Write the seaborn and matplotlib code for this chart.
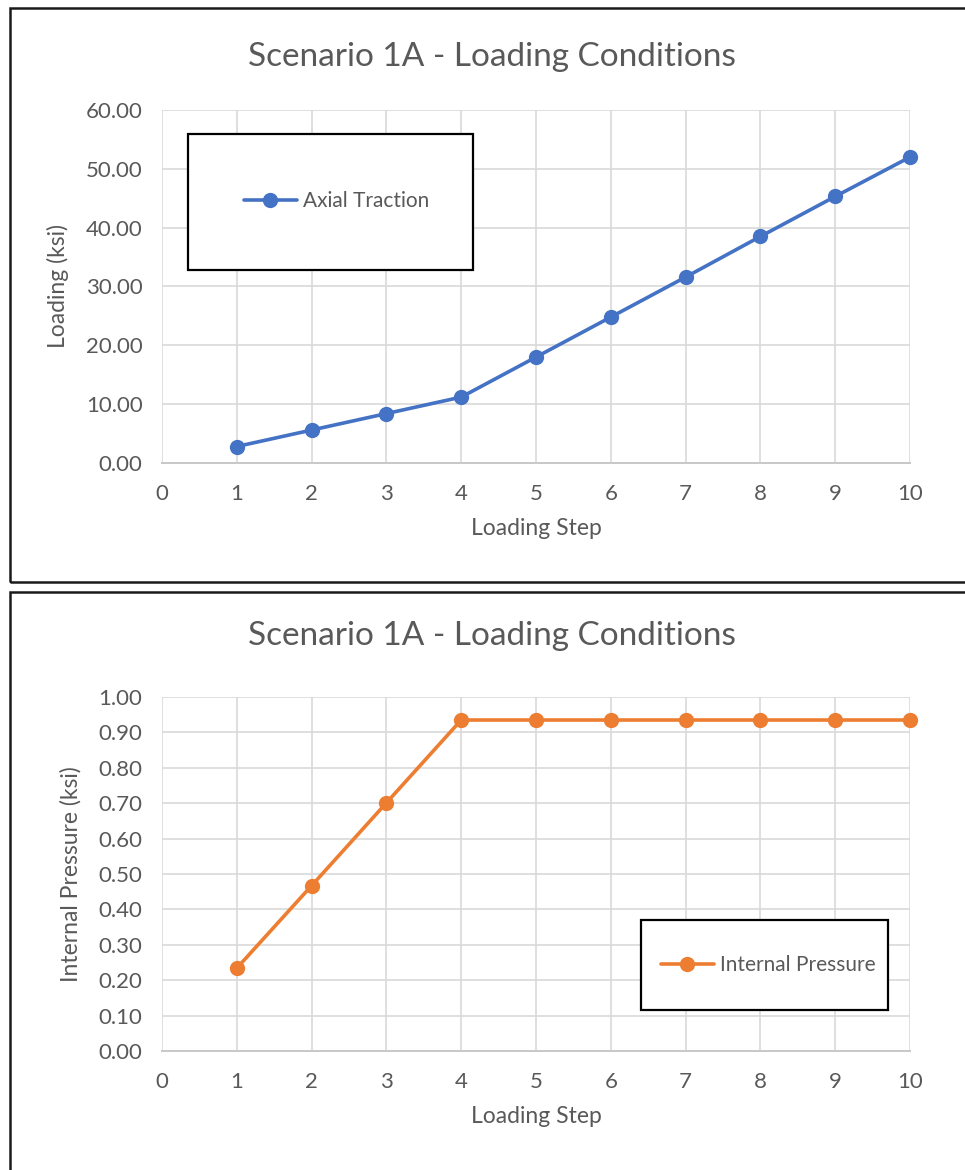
import matplotlib
matplotlib.use("Agg")
import matplotlib.pyplot as plt
from matplotlib.patches import Rectangle
import seaborn as sns
import pandas as pd

steps = [1, 2, 3, 4, 5, 6, 7, 8, 9, 10]
axial_traction = [2.8, 5.6, 8.4, 11.2, 18.0, 24.8, 31.6, 38.5, 45.3, 52.0]
internal_pressure = [0.234, 0.467, 0.701, 0.935, 0.935, 0.935, 0.935, 0.935, 0.935, 0.935]
x_ticks = [0, 1, 2, 3, 4, 5, 6, 7, 8, 9, 10]
y_ticks_top = [0, 10, 20, 30, 40, 50, 60]
y_ticks_bot = [0.0, 0.1, 0.2, 0.3, 0.4, 0.5, 0.6, 0.7, 0.8, 0.9, 1.0]
title = "Scenario 1A - Loading Conditions"

sns.set_theme(style="white")
plt.rcParams['font.family'] = ['Lato', 'DejaVu Sans']

W, H = 965, 1170
fig = plt.figure(figsize=(W / 100, H / 100), dpi=100)
fig.patch.set_facecolor("white")

def fx(px):
    return px / W

def fy(py):
    return 1 - py / H

TEXT = "#595959"
GRID = "#d9d9d9"
TICK_FS = 16
LABEL_FS = 16.5
TITLE_FS = 24
LEG_FS = 15

# panel borders
fig.patches.append(Rectangle((fx(10), fy(582)), fx(980) - fx(10), fy(8) - fy(582),
                             transform=fig.transFigure, fill=False, edgecolor="#1a1a1a", linewidth=1.8))
fig.patches.append(Rectangle((fx(10), fy(1190)), fx(980) - fx(10), fy(592) - fy(1190),
                             transform=fig.transFigure, fill=False, edgecolor="#1a1a1a", linewidth=1.8))

df_top = pd.DataFrame({"step": steps, "val": axial_traction})
df_bot = pd.DataFrame({"step": steps, "val": internal_pressure})

def setup(ax, yticks, fmt):
    ax.set_xlim(0, 10)
    ax.set_ylim(yticks[0], yticks[-1])
    ax.set_xticks(x_ticks)
    ax.set_yticks(yticks)
    ax.set_xticklabels([str(t) for t in x_ticks], fontsize=TICK_FS, color=TEXT)
    ax.set_yticklabels([fmt.format(t) for t in yticks], fontsize=TICK_FS, color=TEXT)
    ax.grid(True, color=GRID, linewidth=1.2)
    for s in ax.spines.values():
        s.set_visible(False)
    ax.spines['bottom'].set_visible(True)
    ax.spines['bottom'].set_color("#c8c8c8")
    ax.spines['bottom'].set_linewidth(1.4)
    ax.tick_params(axis='both', length=0)
    ax.tick_params(axis='x', pad=15)
    ax.tick_params(axis='y', pad=14)
    ax.set_axisbelow(True)

def legend_box(ax, x0, y0, x1, y1):
    r = Rectangle((fx(x0), fy(y1)), fx(x1) - fx(x0), fy(y0) - fy(y1),
                  transform=fig.transFigure, facecolor="white", edgecolor="black",
                  linewidth=1.6, zorder=5, clip_on=False)
    ax.add_artist(r)

# top axes
ax1 = fig.add_axes([fx(162), fy(463), fx(910) - fx(162), fy(110) - fy(463)])
sns.lineplot(data=df_top, x="step", y="val", ax=ax1, color="#4472C4", linewidth=2.6,
             marker="o", markersize=11, markeredgewidth=0, label="Axial Traction", clip_on=False)
setup(ax1, y_ticks_top, "{:.2f}")
ax1.set_xlabel("Loading Step", fontsize=LABEL_FS, color=TEXT, labelpad=10)
ax1.set_ylabel("Loading (ksi)", fontsize=LABEL_FS, color=TEXT, labelpad=12)
fig.text(fx(492), fy(57), title, ha="center", va="center", fontsize=TITLE_FS, color=TEXT)
legend_box(ax1, 188, 134, 473, 270)
leg1 = ax1.legend(loc="center left", bbox_to_anchor=(fx(234), fy(201)), bbox_transform=fig.transFigure,
                  frameon=False, fontsize=LEG_FS, handlelength=2.5, handletextpad=0.3, borderpad=0)
for t in leg1.get_texts():
    t.set_color(TEXT)
leg1.set_zorder(6)

# bottom axes
ax2 = fig.add_axes([fx(162), fy(1051), fx(910) - fx(162), fy(697) - fy(1051)])
sns.lineplot(data=df_bot, x="step", y="val", ax=ax2, color="#ED7D31", linewidth=2.6,
             marker="o", markersize=11, markeredgewidth=0, label="Internal Pressure", clip_on=False)
setup(ax2, y_ticks_bot, "{:.2f}")
ax2.set_xlabel("Loading Step", fontsize=LABEL_FS, color=TEXT, labelpad=10)
ax2.set_ylabel("Internal Pressure (ksi)", fontsize=LABEL_FS, color=TEXT, labelpad=12)
fig.text(fx(492), fy(636), title, ha="center", va="center", fontsize=TITLE_FS, color=TEXT)
legend_box(ax2, 641, 920, 888, 1010)
leg2 = ax2.legend(loc="center left", bbox_to_anchor=(fx(651), fy(965)), bbox_transform=fig.transFigure,
                  frameon=False, fontsize=LEG_FS, handlelength=2.5, handletextpad=0.3, borderpad=0)
for t in leg2.get_texts():
    t.set_color(TEXT)
leg2.set_zorder(6)

fig.savefig("out.png", dpi=100, facecolor="white")
